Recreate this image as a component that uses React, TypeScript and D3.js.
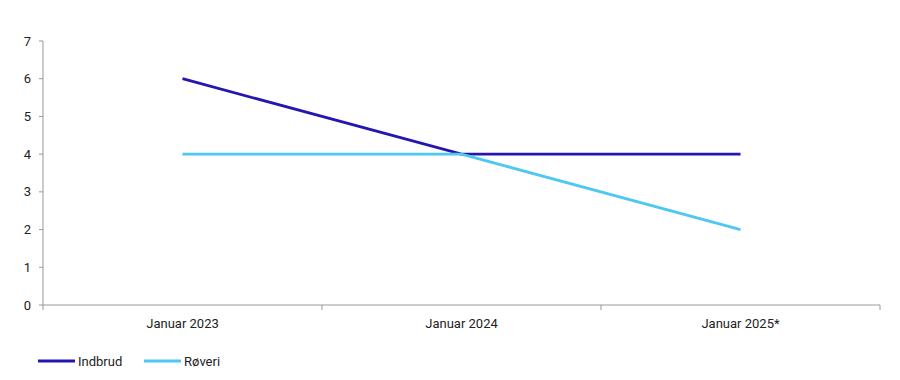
import React from "react";
import * as d3 from "d3";

const categories = ["Januar 2023", "Januar 2024", "Januar 2025*"];
const indbrud = [6, 4, 4];
const roveri = [4, 4, 2];
const yTicks = [0, 1, 2, 3, 4, 5, 6, 7];
const seriesNames = ["Indbrud", "Røveri"];
const colors = ["#2416b0", "#4cc8f2"];

export default function App() {
  const W = 900, H = 380;
  const left = 43, right = 880, top = 41, bottom = 305;
  const x = d3.scaleBand<string>().domain(categories).range([left, right]).padding(0);
  const y = d3.scaleLinear().domain([0, 7]).range([bottom, top]);
  const line = d3.line<number>()
    .x((_, i) => (x(categories[i]) as number) + x.bandwidth() / 2)
    .y((d) => y(d));
  const font = "Roboto, 'Noto Sans', sans-serif";
  const boundaries = [...categories.map((c) => x(c) as number), right];
  const series = [indbrud, roveri];
  return (
    <svg width={W} height={H} style={{ position: "absolute", left: 0, top: 0 }} fontFamily={font}>
      <rect width={W} height={H} fill="#fff" />
      {/* y axis */}
      <line x1={left} x2={left} y1={top} y2={bottom} stroke="#999" strokeWidth={1} />
      {yTicks.map((t) => (
        <g key={t}>
          <line x1={left - 4} x2={left} y1={y(t)} y2={y(t)} stroke="#999" />
          <text x={31} y={y(t)} dy="0.35em" textAnchor="end" fontSize={13} fill="#222">{t}</text>
        </g>
      ))}
      {/* x axis */}
      <line x1={left} x2={right} y1={bottom} y2={bottom} stroke="#999" />
      {boundaries.map((b, i) => (
        <line key={i} x1={b} x2={b} y1={bottom} y2={bottom + 5} stroke="#999" />
      ))}
      {categories.map((c) => (
        <text key={c} x={(x(c) as number) + x.bandwidth() / 2} y={328} textAnchor="middle" fontSize={13} fill="#222">{c}</text>
      ))}
      {series.map((s, i) => (
        <path key={i} d={line(s) || ""} fill="none" stroke={colors[i]} strokeWidth={2.8} />
      ))}
      {/* legend */}
      {seriesNames.map((n, i) => {
        const lx = i === 0 ? 38 : 144;
        return (
          <g key={n}>
            <line x1={lx} x2={lx + 37} y1={361} y2={361} stroke={colors[i]} strokeWidth={3} />
            <text x={lx + 40} y={361} dy="0.35em" fontSize={13} fill="#222">{n}</text>
          </g>
        );
      })}
    </svg>
  );
}
